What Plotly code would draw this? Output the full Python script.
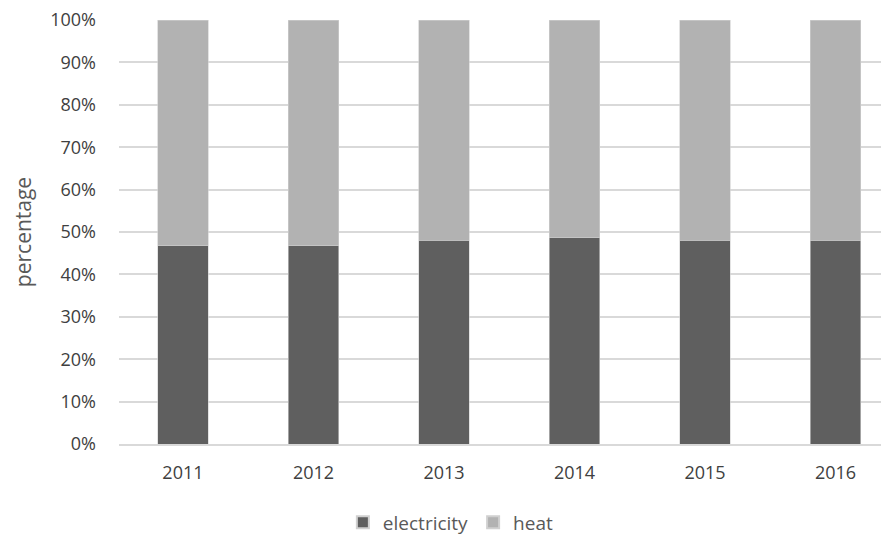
import plotly.graph_objects as go

years = ["2011", "2012", "2013", "2014", "2015", "2016"]
electricity = [0.468, 0.468, 0.480, 0.486, 0.480, 0.480]
heat = [1 - v for v in electricity]
y_ticks = [0, 0.1, 0.2, 0.3, 0.4, 0.5, 0.6, 0.7, 0.8, 0.9, 1.0]

FONT = "Open Sans"

fig = go.Figure()
fig.add_trace(go.Bar(x=years, y=electricity, name="electricity",
                     marker=dict(color="#5f5f5f", line=dict(color="#d0d0d0", width=0.6)),
                     width=0.39))
fig.add_trace(go.Bar(x=years, y=heat, name="heat",
                     marker=dict(color="#b2b2b2", line=dict(color="#d0d0d0", width=0.6)),
                     width=0.39))

fig.update_layout(
    barmode="stack",
    width=881, height=534,
    margin=dict(l=111, r=0, t=11.5, b=92),
    plot_bgcolor="white", paper_bgcolor="white",
    font=dict(family=FONT, size=18, color="#404040"),
    legend=dict(orientation="h", x=0.431, xanchor="center", y=-0.185, yanchor="middle",
                font=dict(size=19, color="#595959"), traceorder="normal",
                itemwidth=30, itemsizing="constant"),
    xaxis=dict(type="category", range=[-0.49, 5.41], showgrid=False,
               showline=True, linecolor="#d9d9d9", linewidth=1.5,
               ticks="", ticklabelstandoff=12, tickfont=dict(size=18, color="#404040")),
    yaxis=dict(range=[0, 1], tickvals=y_ticks, tickformat=".0%",
               showgrid=True, gridcolor="#d9d9d9", gridwidth=1.5,
               zeroline=False, ticks="", ticklabelstandoff=22,
               ticklabeloverflow="allow",
               tickfont=dict(size=18, color="#404040"),
               title=dict(text="percentage", standoff=12, font=dict(size=21, color="#595959"))),
    bargap=0.6,
)

fig.write_html("out.html")
